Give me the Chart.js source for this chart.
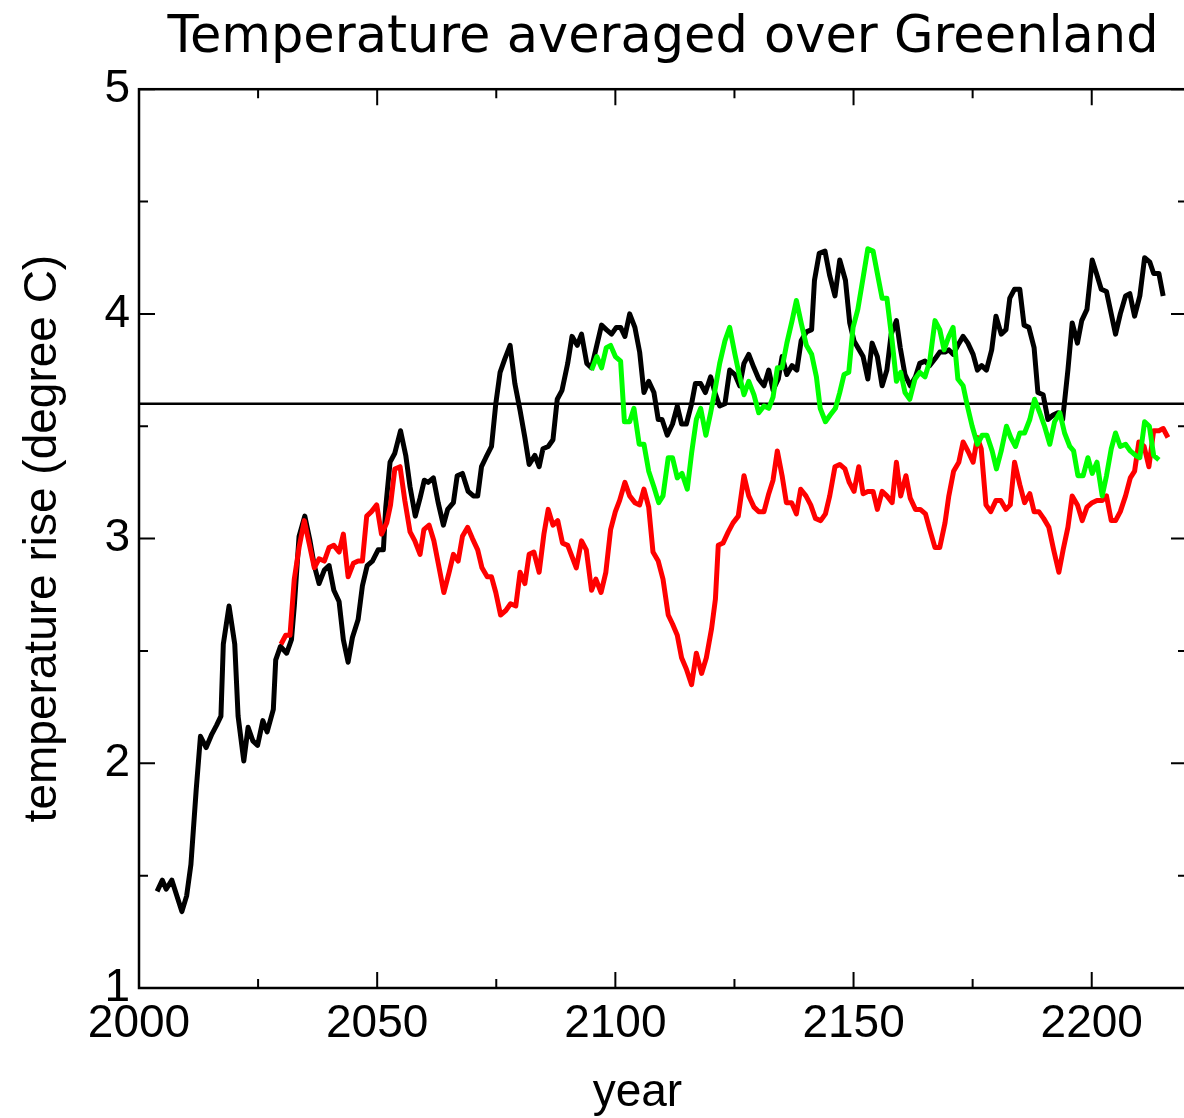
<!DOCTYPE html>
<html>
<head>
<meta charset="utf-8">
<title>Temperature averaged over Greenland</title>
<script src="https://cdn.jsdelivr.net/npm/chart.js@4.4.1/dist/chart.umd.min.js"></script>
<style>
    html, body { margin: 0; padding: 0; background: #fff; overflow: hidden; }
    #wrap { width: 1184px; height: 1118px; overflow: hidden; }
    canvas { display: block; }
</style>
</head>
<body>
<div id="wrap"><canvas id="tempChart" width="1192" height="1118"></canvas></div>
<script>
// values
var blackYears = [2003.8, 2004.9, 2005.7, 2006.9, 2009.0, 2010.0, 2010.9, 2012.0, 2012.9, 2014.1, 2015.3, 2016.3, 2017.2, 2017.7, 2018.9, 2020.1, 2020.8, 2022.0, 2022.9, 2023.9, 2024.9, 2026.0, 2026.9, 2028.2, 2028.7, 2029.7, 2031.0, 2032.0, 2032.6, 2033.6, 2034.8, 2035.9, 2036.8, 2037.8, 2038.9, 2039.9, 2040.9, 2042.0, 2042.9, 2043.9, 2044.8, 2046.0, 2046.9, 2047.9, 2049.0, 2050.2, 2051.3, 2051.8, 2052.7, 2053.7, 2054.9, 2056.0, 2056.9, 2058.0, 2059.0, 2059.9, 2060.7, 2061.8, 2062.8, 2063.9, 2064.8, 2066.0, 2066.8, 2067.9, 2069.1, 2070.2, 2071.1, 2071.9, 2072.8, 2074.0, 2074.9, 2075.8, 2076.8, 2077.9, 2078.9, 2080.0, 2081.0, 2081.9, 2083.1, 2084.0, 2084.8, 2085.9, 2086.9, 2087.8, 2088.8, 2090.0, 2090.9, 2092.0, 2092.9, 2094.0, 2095.0, 2096.1, 2097.1, 2098.1, 2099.2, 2100.2, 2101.1, 2102.0, 2103.0, 2104.1, 2105.1, 2106.0, 2107.0, 2108.1, 2109.0, 2109.8, 2110.9, 2112.0, 2113.0, 2113.9, 2114.9, 2116.0, 2116.8, 2117.9, 2118.9, 2120.0, 2120.9, 2121.9, 2123.0, 2124.0, 2125.1, 2126.1, 2127.0, 2128.0, 2129.1, 2130.1, 2131.2, 2132.2, 2133.1, 2134.2, 2135.0, 2136.0, 2137.1, 2138.1, 2139.0, 2140.1, 2141.2, 2141.8, 2142.8, 2144.0, 2145.0, 2146.1, 2147.1, 2148.3, 2149.2, 2150.1, 2150.9, 2152.0, 2153.0, 2153.9, 2155.0, 2156.0, 2157.0, 2157.9, 2159.0, 2159.8, 2160.8, 2161.9, 2163.0, 2163.9, 2165.0, 2166.0, 2167.1, 2168.1, 2169.2, 2170.0, 2170.9, 2171.9, 2173.0, 2174.0, 2175.1, 2176.0, 2176.9, 2177.9, 2179.0, 2179.9, 2181.0, 2182.0, 2182.8, 2183.8, 2184.9, 2185.8, 2186.8, 2187.9, 2188.7, 2189.8, 2190.8, 2191.9, 2192.9, 2193.9, 2195.0, 2195.9, 2197.0, 2197.9, 2199.0, 2200.1, 2201.0, 2202.0, 2203.1, 2204.1, 2205.0, 2206.0, 2207.1, 2208.0, 2209.0, 2210.1, 2211.1, 2212.2, 2213.0, 2214.1, 2215.0];
var blackTemps = [1.43, 1.48, 1.44, 1.48, 1.34, 1.41, 1.55, 1.88, 2.12, 2.07, 2.13, 2.17, 2.21, 2.53, 2.70, 2.53, 2.21, 2.01, 2.16, 2.10, 2.08, 2.19, 2.14, 2.24, 2.46, 2.52, 2.49, 2.55, 2.70, 3.01, 3.10, 2.99, 2.88, 2.80, 2.86, 2.88, 2.77, 2.72, 2.55, 2.45, 2.56, 2.64, 2.79, 2.88, 2.90, 2.95, 2.95, 3.14, 3.34, 3.38, 3.48, 3.37, 3.23, 3.10, 3.18, 3.26, 3.25, 3.27, 3.16, 3.06, 3.13, 3.16, 3.28, 3.29, 3.21, 3.19, 3.19, 3.32, 3.36, 3.41, 3.60, 3.74, 3.80, 3.86, 3.69, 3.57, 3.45, 3.33, 3.37, 3.32, 3.40, 3.41, 3.44, 3.62, 3.66, 3.78, 3.90, 3.86, 3.91, 3.78, 3.76, 3.86, 3.95, 3.93, 3.91, 3.94, 3.94, 3.90, 4.00, 3.94, 3.83, 3.65, 3.70, 3.65, 3.53, 3.53, 3.46, 3.51, 3.59, 3.51, 3.51, 3.60, 3.69, 3.69, 3.65, 3.72, 3.65, 3.59, 3.60, 3.75, 3.73, 3.68, 3.78, 3.82, 3.76, 3.71, 3.68, 3.75, 3.66, 3.71, 3.81, 3.73, 3.77, 3.75, 3.88, 3.92, 3.93, 4.15, 4.27, 4.28, 4.17, 4.08, 4.24, 4.15, 3.96, 3.88, 3.85, 3.81, 3.71, 3.87, 3.81, 3.68, 3.75, 3.91, 3.97, 3.85, 3.73, 3.68, 3.72, 3.78, 3.79, 3.77, 3.80, 3.83, 3.83, 3.84, 3.82, 3.86, 3.90, 3.87, 3.82, 3.75, 3.77, 3.75, 3.84, 3.99, 3.91, 3.93, 4.07, 4.11, 4.11, 3.95, 3.94, 3.85, 3.65, 3.64, 3.53, 3.55, 3.56, 3.53, 3.75, 3.96, 3.87, 3.97, 4.02, 4.24, 4.18, 4.11, 4.10, 4.00, 3.91, 4.00, 4.08, 4.09, 3.99, 4.08, 4.25, 4.23, 4.18, 4.18, 4.08];

var redYears = [2029.8, 2030.8, 2031.7, 2032.6, 2033.6, 2034.7, 2035.7, 2036.8, 2037.8, 2038.9, 2039.9, 2040.9, 2042.0, 2042.9, 2043.9, 2045.0, 2046.0, 2046.9, 2047.8, 2048.8, 2049.9, 2050.9, 2052.0, 2052.8, 2053.7, 2054.8, 2055.8, 2056.9, 2057.9, 2059.0, 2059.8, 2060.9, 2061.9, 2063.0, 2064.0, 2065.1, 2066.0, 2067.0, 2067.9, 2069.0, 2070.0, 2071.1, 2072.0, 2073.1, 2074.0, 2074.9, 2075.9, 2077.0, 2078.0, 2079.1, 2080.0, 2081.0, 2081.9, 2082.9, 2084.0, 2085.0, 2085.9, 2086.9, 2087.9, 2088.9, 2090.0, 2090.9, 2091.8, 2092.9, 2093.9, 2095.0, 2095.9, 2097.0, 2098.0, 2099.0, 2100.0, 2100.9, 2102.0, 2103.0, 2104.1, 2105.1, 2106.0, 2107.0, 2107.9, 2109.0, 2110.0, 2111.1, 2112.0, 2113.0, 2113.9, 2114.9, 2116.0, 2117.0, 2118.1, 2119.1, 2120.2, 2121.0, 2121.6, 2122.6, 2123.7, 2124.7, 2125.8, 2127.0, 2128.0, 2129.1, 2130.1, 2131.2, 2132.2, 2133.1, 2134.0, 2135.0, 2135.9, 2137.0, 2138.0, 2138.9, 2140.0, 2141.0, 2142.0, 2143.1, 2144.1, 2145.0, 2146.1, 2147.1, 2148.2, 2149.1, 2150.1, 2151.1, 2152.0, 2153.0, 2154.1, 2155.0, 2156.0, 2157.0, 2158.1, 2159.0, 2159.9, 2161.0, 2161.9, 2163.0, 2164.0, 2165.1, 2166.0, 2167.1, 2168.1, 2169.2, 2170.0, 2171.0, 2172.1, 2173.0, 2174.0, 2175.1, 2176.0, 2176.8, 2177.8, 2178.8, 2179.9, 2180.9, 2182.0, 2182.9, 2183.8, 2184.9, 2185.9, 2187.0, 2187.9, 2188.9, 2189.9, 2191.0, 2192.0, 2193.1, 2194.0, 2195.0, 2195.9, 2197.0, 2198.0, 2199.0, 2200.1, 2201.1, 2202.2, 2203.1, 2204.1, 2205.0, 2206.0, 2207.1, 2208.1, 2209.0, 2209.9, 2211.0, 2212.0, 2213.0, 2214.1, 2215.0, 2216.0];
var redTemps = [2.53, 2.57, 2.57, 2.82, 2.96, 3.08, 2.98, 2.87, 2.91, 2.90, 2.96, 2.97, 2.94, 3.02, 2.83, 2.89, 2.90, 2.90, 3.10, 3.12, 3.15, 3.02, 3.07, 3.15, 3.31, 3.32, 3.17, 3.03, 2.99, 2.93, 3.04, 3.06, 2.99, 2.87, 2.76, 2.85, 2.93, 2.90, 3.01, 3.05, 3.00, 2.95, 2.87, 2.83, 2.83, 2.76, 2.66, 2.68, 2.71, 2.70, 2.85, 2.80, 2.93, 2.94, 2.85, 3.02, 3.13, 3.06, 3.08, 2.98, 2.97, 2.92, 2.87, 2.99, 2.95, 2.77, 2.82, 2.76, 2.85, 3.04, 3.12, 3.17, 3.25, 3.19, 3.16, 3.15, 3.22, 3.14, 2.94, 2.90, 2.82, 2.66, 2.62, 2.57, 2.47, 2.42, 2.35, 2.49, 2.40, 2.47, 2.60, 2.73, 2.97, 2.98, 3.03, 3.07, 3.10, 3.28, 3.19, 3.14, 3.12, 3.12, 3.20, 3.26, 3.39, 3.28, 3.16, 3.16, 3.11, 3.22, 3.19, 3.15, 3.09, 3.08, 3.11, 3.19, 3.32, 3.33, 3.31, 3.25, 3.21, 3.32, 3.20, 3.21, 3.21, 3.13, 3.21, 3.19, 3.16, 3.34, 3.19, 3.28, 3.18, 3.13, 3.13, 3.11, 3.04, 2.96, 2.96, 3.07, 3.19, 3.30, 3.34, 3.43, 3.39, 3.34, 3.45, 3.40, 3.15, 3.12, 3.17, 3.17, 3.13, 3.15, 3.34, 3.24, 3.16, 3.20, 3.12, 3.12, 3.09, 3.05, 2.95, 2.85, 2.95, 3.05, 3.19, 3.15, 3.08, 3.14, 3.16, 3.17, 3.17, 3.19, 3.08, 3.08, 3.12, 3.19, 3.27, 3.30, 3.43, 3.41, 3.32, 3.48, 3.48, 3.49, 3.45];

var greenYears = [2095.0, 2096.1, 2097.1, 2098.1, 2099.0, 2100.0, 2101.1, 2101.9, 2103.0, 2103.9, 2105.0, 2106.0, 2107.0, 2108.1, 2109.1, 2110.0, 2111.1, 2112.0, 2113.0, 2114.0, 2115.1, 2116.0, 2117.0, 2117.9, 2119.0, 2120.0, 2120.9, 2121.9, 2123.0, 2124.0, 2125.1, 2126.0, 2127.0, 2128.0, 2129.1, 2130.1, 2131.2, 2132.2, 2133.1, 2134.0, 2135.0, 2136.0, 2137.1, 2138.0, 2139.0, 2140.1, 2141.2, 2142.2, 2143.0, 2144.1, 2145.1, 2146.2, 2147.1, 2148.0, 2149.0, 2149.9, 2150.9, 2152.0, 2153.0, 2154.1, 2155.0, 2156.0, 2157.0, 2158.1, 2159.0, 2159.9, 2160.8, 2161.8, 2162.9, 2163.9, 2165.0, 2166.0, 2167.1, 2168.1, 2169.0, 2170.0, 2170.9, 2171.9, 2173.0, 2173.9, 2174.9, 2176.0, 2177.0, 2178.0, 2179.1, 2180.0, 2181.0, 2182.1, 2183.0, 2184.0, 2184.9, 2185.9, 2187.0, 2188.0, 2189.1, 2190.1, 2191.2, 2192.2, 2193.3, 2194.3, 2195.4, 2196.2, 2197.1, 2198.2, 2199.2, 2200.1, 2201.1, 2202.2, 2203.1, 2204.1, 2205.0, 2206.0, 2207.1, 2208.1, 2209.2, 2210.1, 2211.1, 2212.1, 2213.0, 2214.1];
var greenTemps = [3.75, 3.81, 3.76, 3.85, 3.86, 3.81, 3.79, 3.52, 3.52, 3.58, 3.42, 3.42, 3.30, 3.23, 3.16, 3.19, 3.36, 3.36, 3.27, 3.29, 3.22, 3.38, 3.53, 3.58, 3.46, 3.56, 3.66, 3.78, 3.88, 3.94, 3.82, 3.73, 3.64, 3.70, 3.64, 3.56, 3.59, 3.58, 3.63, 3.76, 3.76, 3.87, 3.97, 4.06, 3.96, 3.86, 3.82, 3.72, 3.58, 3.52, 3.55, 3.58, 3.65, 3.73, 3.74, 3.94, 4.02, 4.16, 4.29, 4.28, 4.18, 4.07, 4.07, 3.88, 3.70, 3.74, 3.65, 3.62, 3.71, 3.74, 3.72, 3.79, 3.97, 3.93, 3.84, 3.90, 3.94, 3.71, 3.68, 3.59, 3.50, 3.42, 3.46, 3.46, 3.39, 3.31, 3.39, 3.50, 3.45, 3.41, 3.47, 3.47, 3.53, 3.62, 3.56, 3.50, 3.42, 3.52, 3.56, 3.47, 3.41, 3.39, 3.28, 3.28, 3.36, 3.29, 3.34, 3.19, 3.28, 3.40, 3.47, 3.41, 3.42, 3.39, 3.37, 3.36, 3.52, 3.50, 3.37, 3.35];

var referenceTemp = 3.6;
var yearRange = [2000, 2220];
var tempRange = [1, 5];

function toPoints(xs, ys) {
    return xs.map(function(x, i) {
        return { x: x, y: ys[i] };
    });
}

// box with inward ticks on all four sides
const frameTicks = {
    id: 'frameTicks',
    afterDraw: function(chart) {
        var ctx = chart.ctx;
        var area = chart.chartArea;
        var xs = chart.scales.x;
        var ys = chart.scales.y;
        var majorLen = 16, minorLen = 9;

        ctx.save();
        ctx.strokeStyle = '#000';
        ctx.lineWidth = 2.5;
        ctx.strokeRect(area.left, area.top, area.right - area.left, area.bottom - area.top);

        ctx.lineWidth = 2;
        ctx.beginPath();
        var xt = xs.ticks.map(function(t) { return t.value; });
        var step = xt[1] - xt[0];
        xt.forEach(function(v) {
            [[v, majorLen], [v + step / 2, minorLen]].forEach(function(m) {
                if (m[0] > xs.max) return;
                var px = xs.getPixelForValue(m[0]);
                ctx.moveTo(px, area.bottom);
                ctx.lineTo(px, area.bottom - m[1]);
                ctx.moveTo(px, area.top);
                ctx.lineTo(px, area.top + m[1]);
            });
        });
        var yt = ys.ticks.map(function(t) { return t.value; });
        var ystep = yt[1] - yt[0];
        yt.forEach(function(v) {
            [[v, majorLen], [v + ystep / 2, minorLen]].forEach(function(m) {
                if (m[0] > ys.max) return;
                var py = ys.getPixelForValue(m[0]);
                ctx.moveTo(area.left, py);
                ctx.lineTo(area.left + m[1], py);
                ctx.moveTo(area.right, py);
                ctx.lineTo(area.right - m[1], py);
            });
        });
        ctx.stroke();
        ctx.restore();
    }
};

var ctx = document.getElementById('tempChart').getContext('2d');
var chart = new Chart(ctx, {
    type: 'line',
    data: {
        datasets: [{
            label: 'green',
            data: toPoints(greenYears, greenTemps),
            borderColor: '#00ff00',
            borderWidth: 5
        }, {
            label: 'red',
            data: toPoints(redYears, redTemps),
            borderColor: '#ff0000',
            borderWidth: 5
        }, {
            label: 'black',
            data: toPoints(blackYears, blackTemps),
            borderColor: '#000000',
            borderWidth: 5
        }, {
            label: 'reference',
            data: toPoints(yearRange, [referenceTemp, referenceTemp]),
            borderColor: '#000000',
            borderWidth: 2.5
        }]
    },
    options: {
        responsive: false,
        animation: false,
        devicePixelRatio: 1,
        layout: {
            padding: { left: 0, right: 5, top: 0, bottom: 0 }
        },
        elements: {
            point: { radius: 0, hoverRadius: 0 },
            line: { tension: 0, fill: false, borderJoinStyle: 'round' }
        },
        scales: {
            x: {
                type: 'linear',
                min: yearRange[0],
                max: yearRange[1],
                grid: { display: false, drawTicks: false },
                border: { display: false },
                ticks: {
                    stepSize: 50,
                    includeBounds: false,
                    maxRotation: 0,
                    padding: 9,
                    color: '#000',
                    font: { family: 'Liberation Sans, Arial, sans-serif', size: 46 },
                    callback: function(value) { return String(value); }
                },
                title: {
                    display: true,
                    text: 'year    ',
                    color: '#000',
                    padding: { top: 0, bottom: 2 },
                    font: { family: 'Liberation Sans, Arial, sans-serif', size: 46, lineHeight: 1 }
                },
                afterFit: function(scale) { scale.height = 130; }
            },
            y: {
                min: tempRange[0],
                max: tempRange[1],
                grid: { display: false, drawTicks: false },
                border: { display: false },
                ticks: {
                    stepSize: 1,
                    padding: 9,
                    color: '#000',
                    font: { family: 'Liberation Sans, Arial, sans-serif', size: 46 }
                },
                title: {
                    display: true,
                    text: 'temperature rise (degree C)',
                    color: '#000',
                    padding: { top: 16, bottom: 0 },
                    font: { family: 'Liberation Sans, Arial, sans-serif', size: 46 }
                },
                afterFit: function(scale) { scale.width = 139; }
            }
        },
        plugins: {
            legend: { display: false },
            tooltip: { enabled: false },
            title: {
                display: true,
                text: 'Temperature averaged over Greenland',
                fullSize: false,
                color: '#000',
                padding: { top: 8, bottom: 20 },
                font: { family: 'DejaVu Sans, Verdana, sans-serif', size: 51, weight: 'normal' }
            }
        }
    },
    plugins: [frameTicks]
});
</script>
</body>
</html>
